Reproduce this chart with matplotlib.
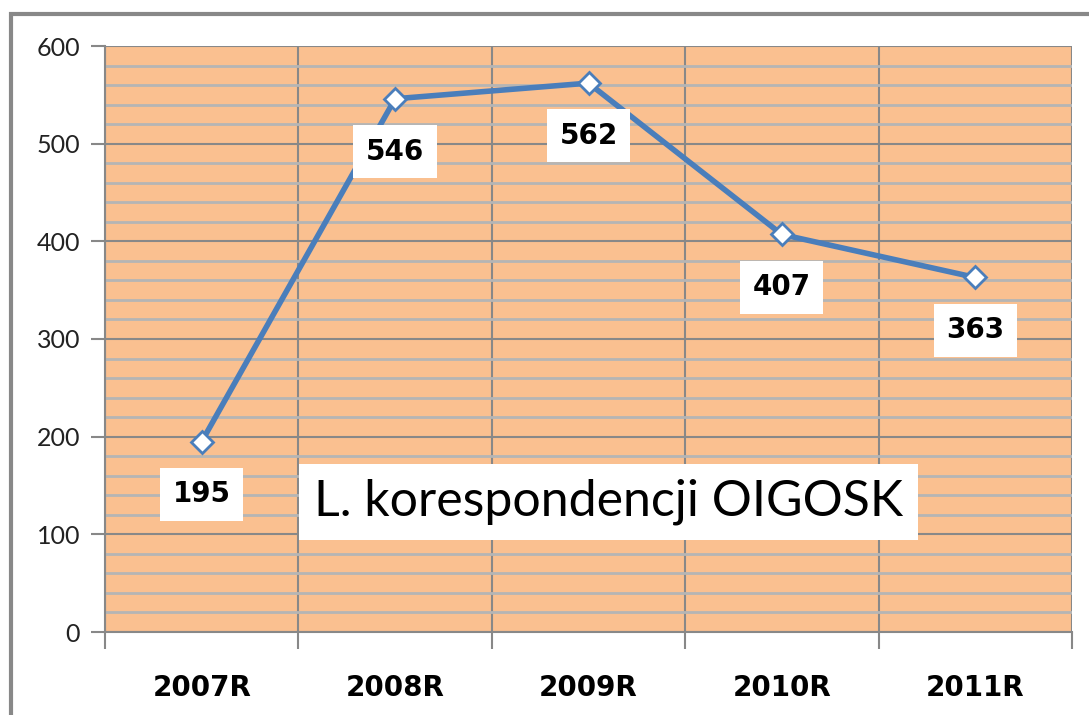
import numpy as np
import matplotlib.pyplot as plt
from matplotlib.patches import Rectangle
from matplotlib.ticker import MultipleLocator

years = ["2007R", "2008R", "2009R", "2010R", "2011R"]
counts = [195, 546, 562, 407, 363]
title = "L. korespondencji OIGOSK"

W, H = 1089, 715
fig = plt.figure(figsize=(W / 100, H / 100), dpi=100)
fig.patch.set_facecolor("white")

# outer chart frame (runs off the right/bottom edge like the source)
fig.patches.append(Rectangle((11 / W, -0.05), 1.1, 1 - 14 / H + 0.05,
                             transform=fig.transFigure, fill=False,
                             edgecolor="#888888", linewidth=3))

ax = fig.add_axes([105 / W, 1 - 632 / H, (1072 - 105) / W, (632 - 46) / H])
ax.set_facecolor("#FAC090")

x = np.arange(len(years))
ax.plot(x, counts, color="#4A7EBB", linewidth=4, marker="D", markersize=11,
        markerfacecolor="white", markeredgecolor="#4A7EBB", markeredgewidth=2,
        zorder=5)

for xi, v in zip(x, counts):
    ax.annotate(str(v), (xi, v), xytext=(0, -38), textcoords="offset points",
                ha="center", va="center", fontsize=20, fontweight="bold",
                bbox=dict(boxstyle="square,pad=0.45", fc="white", ec="none"),
                zorder=6)

ax.text(0.521, 0.222, title, transform=ax.transAxes, ha="center", va="center",
        fontsize=36, family="Lato",
        bbox=dict(boxstyle="square,pad=0.3", fc="white", ec="none"), zorder=6)

ax.set_xlim(-0.5, len(years) - 0.5)
ax.set_ylim(0, 600)

# x: labels at category centres, tick marks/grid at the boundaries
ax.set_xticks(x)
ax.set_xticklabels(years, fontsize=20, fontweight="bold")
ax.tick_params(axis="x", which="major", length=0, pad=30)
ax.set_xticks(np.arange(-0.5, len(years)), minor=True)
ax.tick_params(axis="x", which="minor", length=12, width=1.5, color="#888888")
ax.grid(True, axis="x", which="minor", color="#888888", linewidth=1.5)

ax.yaxis.set_major_locator(MultipleLocator(100))
ax.yaxis.set_minor_locator(MultipleLocator(20))
ax.tick_params(axis="y", which="major", length=10, width=1.5, color="#888888",
               labelsize=18, labelcolor="#222222", pad=8)
ax.tick_params(axis="y", which="minor", length=0)
for lbl in ax.get_yticklabels():
    lbl.set_family("Lato")
ax.grid(True, axis="y", which="minor", color="#B5B5B5", linewidth=2)
ax.grid(True, axis="y", which="major", color="#888888", linewidth=1.5)
ax.set_axisbelow(True)

for side in ["top", "right"]:
    ax.spines[side].set_visible(False)
for side in ["left", "bottom"]:
    ax.spines[side].set_color("#888888")
    ax.spines[side].set_linewidth(1.5)

fig.savefig("out.png", dpi=100)
